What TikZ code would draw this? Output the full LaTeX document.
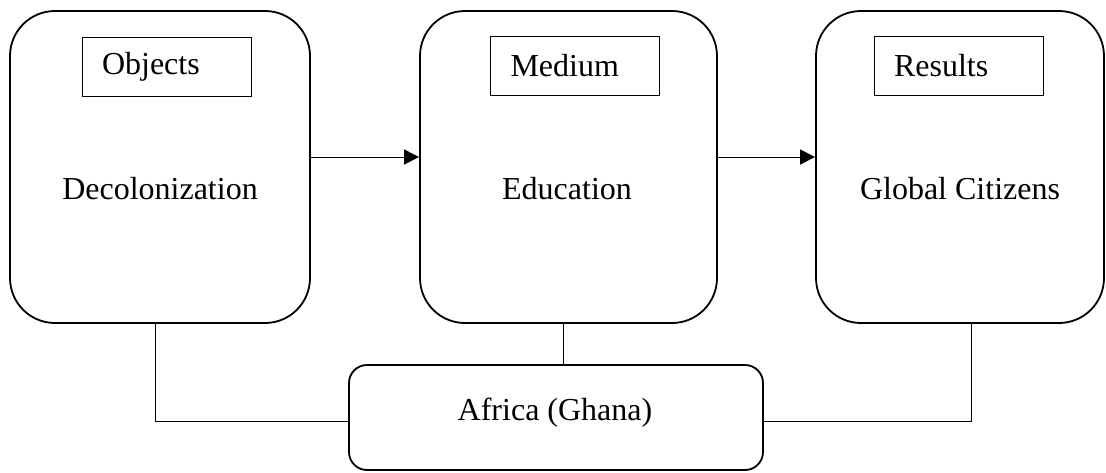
\documentclass[tikz,border=0pt]{standalone}
\usepackage{fontspec}
\setmainfont{Liberation Serif}
\usetikzlibrary{arrows.meta,calc}
\begin{document}
\begin{tikzpicture}[x=1pt,y=-1pt,
  bigbox/.style={draw,line width=1.8pt,rounded corners=45pt,minimum width=#1,minimum height=312pt,inner sep=0pt},
  tagbox/.style={draw,line width=0.9pt,minimum width=169pt,minimum height=59pt,text width=129pt,align=left,inner xsep=20pt,inner ysep=0pt},
  basebox/.style={draw,line width=1.8pt,rounded corners=18pt,minimum width=414pt,minimum height=105pt,inner sep=0pt},
  lbl/.style={font=\fontsize{32}{38}\selectfont},
  arr/.style={line width=1pt,-{Triangle[length=15pt,width=15pt]}},
  link/.style={line width=0.9pt}]
\useasboundingbox[fill=white] (0,0) rectangle (1106,472);
\node[bigbox=300pt] (L) at (160,167) {};
\node[bigbox=297pt] (M) at (568.5,167) {};
\node[bigbox=288pt] (R) at (960,167) {};
\node[tagbox,lbl] (Lt) at (166.5,67) {Objects};
\node[tagbox,lbl] (Mt) at (575,66) {Medium};
\node[tagbox,lbl] (Rt) at (958.5,66) {Results};
\node[lbl] (Ltx) at (160,189) {Decolonization};
\node[lbl] (Mtx) at (567,189) {Education};
\node[lbl] (Rtx) at (960,189) {Global Citizens};
\node[basebox] (A) at (556,417.5) {};
\node[lbl] (Atx) at (555,413) {Africa (Ghana)};
\draw[arr] ([yshift=10pt]L.east) -- ([yshift=10pt]M.west);
\draw[arr] ([yshift=10pt]M.east) -- ([yshift=10pt]R.west);
\draw[link] ([xshift=-5pt]L.south) |- ([yshift=-3.5pt]A.west);
\draw[link] ([xshift=-5pt]M.south) -- ([xshift=-5pt]M.south |- A.north);
\draw[link] ([xshift=11pt]R.south) |- ([yshift=-3.5pt]A.east);
\end{tikzpicture}
\end{document}
